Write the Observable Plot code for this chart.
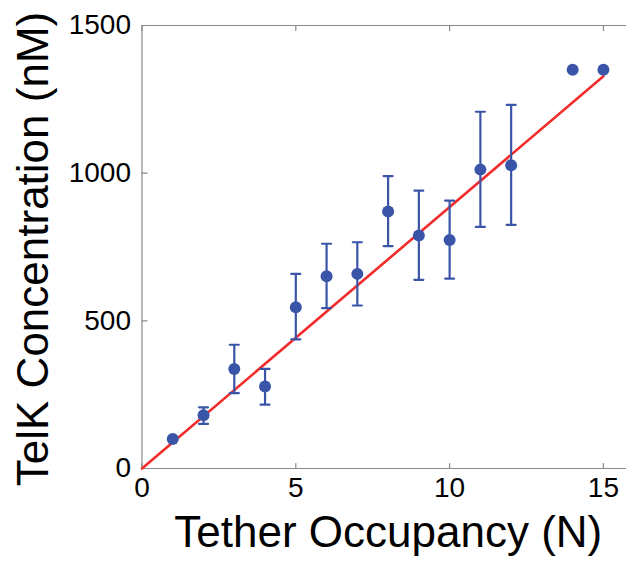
<!DOCTYPE html>
<html>
<head>
<meta charset="utf-8">
<script src="https://cdn.jsdelivr.net/npm/d3@7"></script>
<script src="https://cdn.jsdelivr.net/npm/@observablehq/plot@0.6"></script>
<style>
  html, body { margin: 0; padding: 0; background: #fff; }
  #chart svg { display: block; overflow: visible; }
</style>
</head>
<body>
<div id="chart"></div>
<script>
// Data
const occupancy = [1, 2, 3, 4, 5, 6, 7, 8, 9, 10, 11, 12, 14, 15];
const concentration = [100, 180, 337, 278, 546, 651, 659, 870, 789, 774, 1012, 1027, 1350, 1350];
const errOccupancy = [2, 3, 4, 5, 6, 7, 8, 9, 10, 11, 12];
const errLow = [151, 255, 216, 437, 543, 552, 753, 639, 643, 818, 825];
const errHigh = [207, 419, 337, 659, 761, 766, 990, 941, 907, 1208, 1231];
const fitOccupancy = [0, 15];
const fitConcentration = [0, 1328];
const xTicks = [0, 5, 10, 15];
const yTicks = [0, 500, 1000, 1500];
const xDomain = [0, 15.75];
const yDomain = [0, 1500];

const points = occupancy.map((x, i) => ({x, y: concentration[i]}));
const errs = errOccupancy.map((x, i) => ({x, lo: errLow[i], hi: errHigh[i]}));
const fit = fitOccupancy.map((x, i) => ({x, y: fitConcentration[i]}));

const blue = "#3a55a8";
const red = "#f22b2b";
const gray = "#8a8a8a";
const font = "Liberation Sans, Arial, Helvetica, sans-serif";

const tickShape = {draw(ctx, l) { ctx.moveTo(0, 0); ctx.lineTo(0, -l); }};
const capShape = {draw(ctx, l) { ctx.moveTo(-l / 2, 0); ctx.lineTo(l / 2, 0); }};

const chart = Plot.plot({
  width: 627,
  height: 562,
  marginLeft: 141.5,
  marginRight: 1,
  marginTop: 25,
  marginBottom: 94,
  style: {fontFamily: font, background: "#fff", color: "#000"},
  x: {domain: xDomain},
  y: {domain: yDomain},
  marks: [
    // box lines
    Plot.ruleY([yDomain[0], yDomain[1]], {stroke: gray, strokeWidth: 1.2}),
    Plot.ruleX([xDomain[0]], {stroke: gray, strokeWidth: 1.2}),
    // inward ticks
    Plot.vector(xTicks, {x: d => d, y: () => yDomain[0], length: 5, rotate: 0, anchor: "start", shape: tickShape, stroke: gray, strokeWidth: 1.2}),
    Plot.vector(xTicks, {x: d => d, y: () => yDomain[1], length: 5, rotate: 180, anchor: "start", shape: tickShape, stroke: gray, strokeWidth: 1.2}),
    Plot.vector(yTicks, {x: () => xDomain[0], y: d => d, length: 5, rotate: 90, anchor: "start", shape: tickShape, stroke: gray, strokeWidth: 1.2}),
    // tick labels
    Plot.axisX(xTicks, {anchor: "bottom", tickSize: 0, tickPadding: 9, fontSize: 28, label: null, tickFormat: d => String(d)}),
    Plot.axisY(yTicks, {anchor: "left", tickSize: 0, tickPadding: 11, fontSize: 28, label: null, tickFormat: d => String(d)}),
    // axis titles
    Plot.text(["Tether Occupancy (N)"], {frameAnchor: "bottom", dy: 64, dx: 4, fontSize: 44, textAnchor: "middle", lineAnchor: "middle", fill: "#000"}),
    Plot.text(["TelK Concentration (nM)"], {frameAnchor: "left", dx: -108, dy: 2, rotate: -90, fontSize: 44, textAnchor: "middle", lineAnchor: "middle", fill: "#000"}),
    // fit line
    Plot.line(fit, {x: "x", y: "y", stroke: red, strokeWidth: 2.6}),
    // error bars
    Plot.ruleX(errs, {x: "x", y1: "lo", y2: "hi", stroke: blue, strokeWidth: 2.2}),
    Plot.vector(errs, {x: "x", y: "lo", length: 9, rotate: 0, anchor: "start", shape: capShape, stroke: blue, strokeWidth: 2.2}),
    Plot.vector(errs, {x: "x", y: "hi", length: 9, rotate: 0, anchor: "start", shape: capShape, stroke: blue, strokeWidth: 2.2}),
    // data points
    Plot.dot(points, {x: "x", y: "y", r: 6, fill: blue, stroke: "none"})
  ]
});
document.getElementById("chart").appendChild(chart);
</script>
</body>
</html>
